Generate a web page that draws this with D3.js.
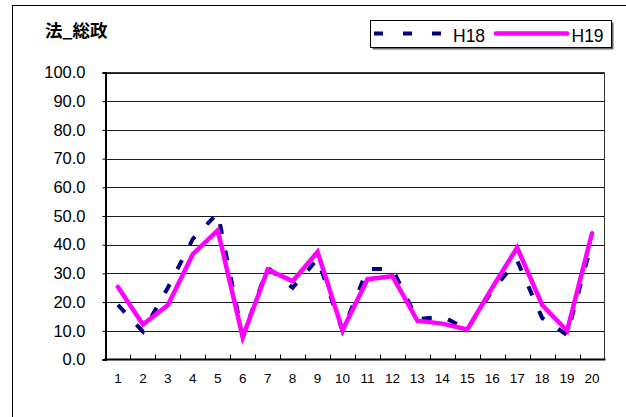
<!DOCTYPE html>
<html>
<head>
<meta charset="utf-8">
<script src="https://cdn.jsdelivr.net/npm/d3@7"></script>
<style>
  html, body { margin: 0; padding: 0; background: #fff; }
  svg { display: block; }
</style>
</head>
<body>
<script>
// Categories 1–20 and the two yearly series
const categories = d3.range(1, 21).map(String);
const h18 = [19, 9.7, 25, 42, 51, 8, 32, 25, 35, 10, 31.5, 31.5, 14, 15, 10.5, 24, 34.5, 14.5, 8.5, 41];
const h19 = [25.3, 12.2, 19, 36.7, 45, 7.8, 31.3, 27.3, 37.5, 10.2, 28, 29, 13.5, 12.5, 10.5, 25, 39, 19, 10, 44];
const yTicks = [0, 10, 20, 30, 40, 50, 60, 70, 80, 90, 100];
const seriesNames = ["H18", "H19"];
const title = "法_総政";

const W = 626, H = 417;
const plot = { left: 105.5, right: 604.5, top: 72.5, bottom: 359.5 };

const svg = d3.select("body").append("svg").attr("width", W).attr("height", H);

// outer chart frame
svg.append("rect")
  .attr("x", 12.5).attr("y", 5.5).attr("width", 800).attr("height", 600)
  .attr("fill", "#fff").attr("stroke", "#000").attr("stroke-width", 1);

const x = d3.scalePoint().domain(categories).range([plot.left, plot.right]).padding(0.5);
const xBand = d3.scaleBand().domain(categories).range([plot.left, plot.right]);
const y = d3.scaleLinear().domain([0, 100]).range([plot.bottom, plot.top]);

// horizontal gridlines
svg.append("g").selectAll("line").data(yTicks.filter(d => d > 0)).join("line")
  .attr("x1", plot.left).attr("x2", plot.right)
  .attr("y1", d => Math.round(y(d)) + 0.5).attr("y2", d => Math.round(y(d)) + 0.5)
  .attr("stroke", "#1a1a1a").attr("stroke-width", 1);

// top and right edges of the plot area
svg.append("path")
  .attr("d", `M${plot.left},${plot.top}H${plot.right}V${plot.bottom}`)
  .attr("fill", "none").attr("stroke", "#333").attr("stroke-width", 1);

// y axis
const yAxis = svg.append("g")
  .attr("transform", `translate(${plot.left},0)`)
  .call(d3.axisLeft(y).tickValues(yTicks).tickFormat(d3.format(".1f")).tickSize(3).tickPadding(17));
yAxis.select(".domain").attr("stroke", "#000").attr("stroke-width", 2);
yAxis.selectAll(".tick line").attr("stroke", "#000");
yAxis.selectAll("text")
  .attr("font-family", "'Liberation Sans', Arial, sans-serif")
  .attr("font-size", "16.5px").attr("fill", "#000");

// x axis: ticks sit between categories and point into the plot
const xg = svg.append("g");
xg.append("line")
  .attr("x1", plot.left - 1).attr("x2", plot.right + 1)
  .attr("y1", plot.bottom).attr("y2", plot.bottom)
  .attr("stroke", "#000").attr("stroke-width", 2);
xg.selectAll("line.tk").data(categories.slice(1)).join("line")
  .attr("class", "tk")
  .attr("x1", d => Math.round(xBand(d)) + 0.5).attr("x2", d => Math.round(xBand(d)) + 0.5)
  .attr("y1", plot.bottom - 5).attr("y2", plot.bottom)
  .attr("stroke", "#000").attr("stroke-width", 1);
xg.selectAll("text").data(categories).join("text")
  .attr("x", d => x(d)).attr("y", 383.3)
  .attr("text-anchor", "middle")
  .attr("font-family", "'Liberation Sans', Arial, sans-serif")
  .attr("font-size", "13.5px").attr("fill", "#000")
  .text(d => d);

// series lines
const line = d3.line().x((d, i) => x(categories[i])).y(d => y(d));

svg.append("path").datum(h18)
  .attr("d", line).attr("fill", "none")
  .attr("stroke", "#000080").attr("stroke-width", 4)
  .attr("stroke-dasharray", "10,17").attr("stroke-linejoin", "miter");

svg.append("path").datum(h19)
  .attr("d", line).attr("fill", "none")
  .attr("stroke", "#ff00ff").attr("stroke-width", 4.5)
  .attr("stroke-linejoin", "miter").attr("stroke-linecap", "round");

// title
svg.append("text")
  .attr("x", 45).attr("y", 37)
  .attr("font-family", "'Noto Sans CJK JP', sans-serif")
  .attr("font-weight", "bold").attr("font-size", "17.5px").attr("fill", "#000")
  .text(title);

// legend
const lg = svg.append("g");
lg.append("rect")
  .attr("x", 372.5).attr("y", 22.5).attr("width", 241).attr("height", 27)
  .attr("fill", "#666");
lg.append("rect")
  .attr("x", 370.5).attr("y", 20.5).attr("width", 241).attr("height", 27)
  .attr("fill", "#fff").attr("stroke", "#000").attr("stroke-width", 1);
lg.append("line")
  .attr("x1", 374).attr("x2", 442).attr("y1", 33.5).attr("y2", 33.5)
  .attr("stroke", "#000080").attr("stroke-width", 4).attr("stroke-dasharray", "9,20");
lg.append("line")
  .attr("x1", 496).attr("x2", 567).attr("y1", 33.5).attr("y2", 33.5)
  .attr("stroke", "#ff00ff").attr("stroke-width", 4.5).attr("stroke-linecap", "round");
lg.selectAll("text").data(seriesNames).join("text")
  .attr("x", (d, i) => i === 0 ? 453 : 571.5).attr("y", 41.5)
  .attr("font-family", "'Liberation Sans', Arial, sans-serif")
  .attr("font-size", "17.5px").attr("fill", "#000")
  .text(d => d);
</script>
</body>
</html>
